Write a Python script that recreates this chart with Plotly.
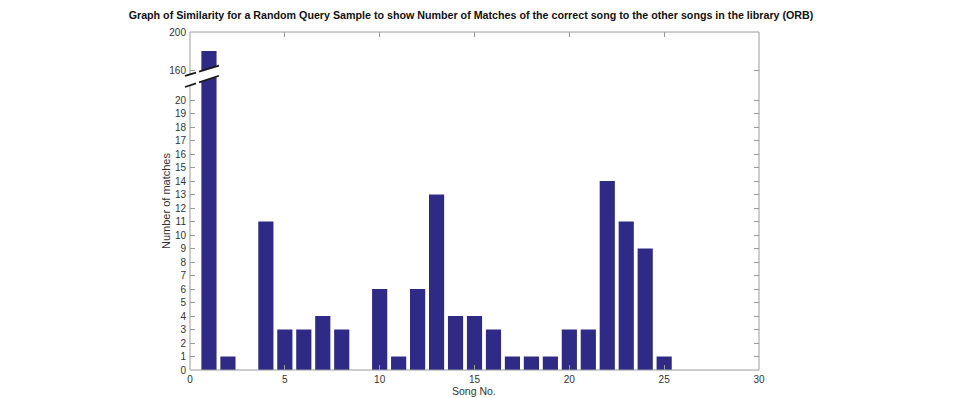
import plotly.graph_objects as go

songs = list(range(1, 26))
matches = [180, 1, 0, 11, 3, 3, 4, 3, 0, 6, 1, 6, 13, 4, 4, 3, 1, 1, 1, 3, 3, 14, 11, 9, 1]
x_ticks = [0, 5, 10, 15, 20, 25, 30]
y_low_ticks = list(range(0, 21))
y_high_ticks = [160, 200]

W, H = 957, 398
L, R, T, B = 190, 198, 32, 28
PW, PH = W - L - R, H - T - B
SPLIT_PX = 80  # pixel y where the axis is broken

def px(xp):
    return (xp - L) / PW

def py(yp):
    return (H - B - yp) / PH

split = py(SPLIT_PX)
low_top = (H - B - SPLIT_PX) / 13.5        # 13.5 px per unit in lower part
high_bottom = 160 - (SPLIT_PX - 70) / 0.95  # 0.95 px per unit in upper part

bar_color = "#2f2a85"
axis_color = "#9a9a9a"
FONT = "Liberation Sans, Arial, sans-serif"
tick_font = dict(family=FONT, size=10, color="#333333")

fig = go.Figure()
for ya in ["y", "y2"]:
    fig.add_trace(go.Bar(x=songs, y=matches, yaxis=ya, xaxis="x",
                         marker=dict(color=bar_color, line=dict(width=0)),
                         width=0.8, showlegend=False))

fig.update_layout(
    width=W, height=H,
    margin=dict(l=L, r=R, t=T, b=B, autoexpand=False),
    plot_bgcolor="white", paper_bgcolor="white",
    title=dict(text="<b>Graph of Similarity for a Random Query Sample to show Number of Matches of the correct song to the other songs in the library (ORB)</b>",
               x=px(471), xref="paper", xanchor="center", y=1 - 15 / H, yanchor="middle",
               font=dict(family=FONT, size=10.7, color="#111111")),
    xaxis=dict(range=[0, 30], tickvals=x_ticks, ticks="inside", ticklen=5, tickcolor=axis_color,
               showgrid=False, zeroline=False, showline=False, anchor="y", automargin=False,
               tickfont=tick_font, ticklabelstandoff=2),
    xaxis2=dict(range=[0, 30], tickvals=x_ticks, ticks="inside", ticklen=5, tickcolor=axis_color,
                showticklabels=False, showgrid=False, zeroline=False, showline=False,
                overlaying="x", side="top", anchor="y2", automargin=False),
    yaxis=dict(domain=[0, split], range=[0, low_top], tickvals=y_low_ticks, ticks="inside",
               ticklen=5, tickcolor=axis_color, mirror="ticks", showgrid=False, zeroline=False,
               showline=False, tickfont=tick_font, anchor="x", ticklabelstandoff=3, automargin=False),
    yaxis2=dict(domain=[split, 1], range=[high_bottom, 200], tickvals=y_high_ticks, ticks="inside",
                ticklen=5, tickcolor=axis_color, mirror="ticks", showgrid=False, zeroline=False,
                showline=False, tickfont=tick_font, anchor="x", ticklabelstandoff=3, automargin=False),
)
# dummy trace on xaxis2 so its ticks render
fig.add_trace(go.Scatter(x=[None], y=[None], xaxis="x2", yaxis="y2", showlegend=False))

shapes = [
    dict(type="rect", xref="paper", yref="paper", x0=0, x1=1, y0=0, y1=1,
         line=dict(color=axis_color, width=1), fillcolor="rgba(0,0,0,0)", layer="above"),
]
# break mark: white band between two slanted dark lines
x_a, x_b = 184, 222
def upper(xp):
    return 75 - 0.3 * (xp - 188)
def lower(xp):
    return 86 - 0.33 * (xp - 188)
path = (f"M {px(x_a)},{py(upper(x_a))} L {px(x_b)},{py(upper(x_b))} "
        f"L {px(x_b)},{py(lower(x_b))} L {px(x_a)},{py(lower(x_a))} Z")
shapes.append(dict(type="path", xref="paper", yref="paper", path=path,
                   fillcolor="white", line=dict(width=0), layer="above"))
for fn in (upper, lower):
    for (a, b) in [(185, 196), (199, 219)]:
        shapes.append(dict(type="line", xref="paper", yref="paper",
                           x0=px(a), y0=py(fn(a)), x1=px(b), y1=py(fn(b)),
                           line=dict(color="#1a1a1a", width=1.8), layer="above"))
fig.update_layout(shapes=shapes)

fig.add_annotation(text="Number of matches", xref="paper", yref="paper",
                   x=px(166), y=py(201), textangle=-90, showarrow=False,
                   xanchor="center", yanchor="middle",
                   font=dict(family=FONT, size=11, color="#333333"))
fig.add_annotation(text="Song No.", xref="paper", yref="paper",
                   x=px(474), y=py(398), showarrow=False,
                   xanchor="center", yanchor="bottom", yshift=-1,
                   font=dict(family=FONT, size=10.5, color="#333333"))

fig.write_html("out.html")
